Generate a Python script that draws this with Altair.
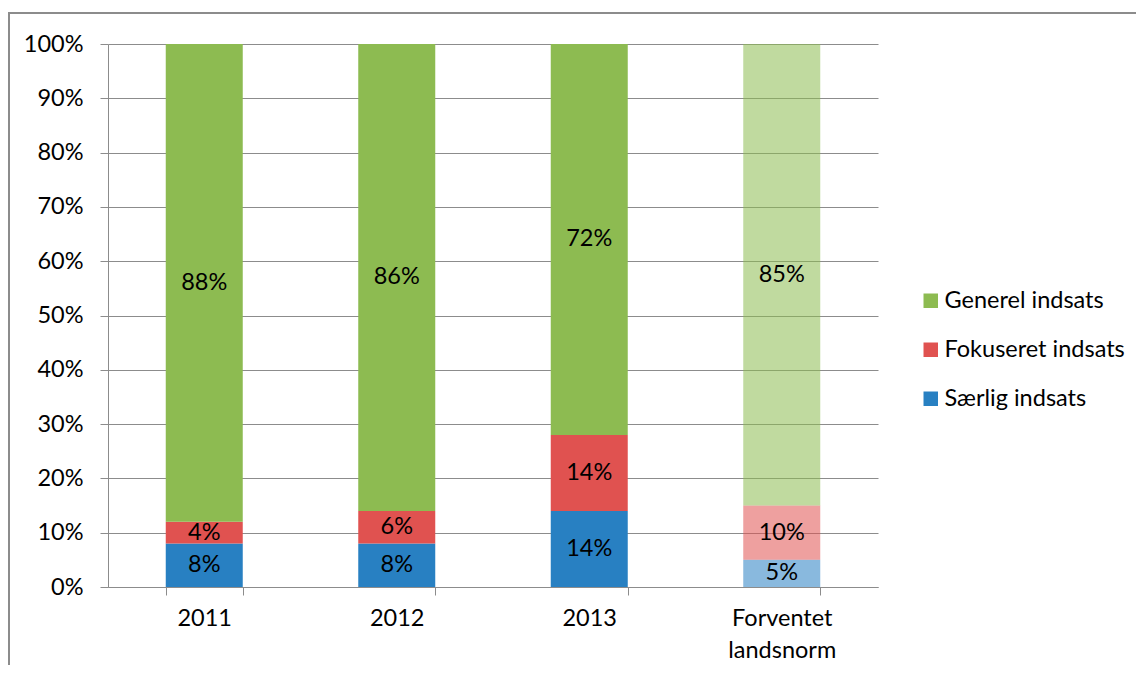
import altair as alt
import pandas as pd

categories = ["2011", "2012", "2013", "Forventet landsnorm"]
series = ["Særlig indsats", "Fokuseret indsats", "Generel indsats"]
saerlig = [0.08, 0.08, 0.14, 0.05]
fokuseret = [0.04, 0.06, 0.14, 0.10]
generel = [0.88, 0.86, 0.72, 0.85]
y_ticks = [i / 10 for i in range(11)]

rows = []
for i, c in enumerate(categories):
    for k, (s, vals) in enumerate(zip(series, [saerlig, fokuseret, generel])):
        rows.append({"category": c, "series": s, "value": vals[i], "order": k})
df = pd.DataFrame(rows)

FONT = "Lato"
FS = 23.5
GRAY = "#8c8c8c"

base = alt.Chart(df).transform_stack(
    stack="value", groupby=["category"], sort=[alt.SortField("order")], as_=["y0", "y1"]
).transform_calculate(mid="(datum.y0 + datum.y1) / 2")

xenc = alt.X(
    "category:N",
    sort=categories,
    title=None,
    scale=alt.Scale(paddingInner=0.6, paddingOuter=0.3),
    axis=alt.Axis(
        labelAngle=0,
        tickBand="extent",
        tickSize=8,
        tickColor=GRAY,
        domainColor=GRAY,
        labelFont=FONT,
        labelFontSize=FS,
        labelColor="#000",
        labelPadding=11,
        labelLineHeight=32,
        labelExpr="datum.value == 'Forventet landsnorm' ? ['Forventet', 'landsnorm'] : datum.value",
        grid=False,
    ),
)

bars = base.mark_bar().encode(
    x=xenc,
    y=alt.Y(
        "y0:Q",
        title=None,
        scale=alt.Scale(domain=[0, 1]),
        axis=alt.Axis(
            values=y_ticks,
            format=".0%",
            grid=True,
            gridColor=GRAY,
            tickColor=GRAY,
            domainColor=GRAY,
            tickSize=8,
            labelFont=FONT,
            labelFontSize=FS,
            labelColor="#000",
            labelPadding=17,
        ),
    ),
    y2="y1:Q",
    color=alt.Color(
        "series:N",
        scale=alt.Scale(
            domain=["Generel indsats", "Fokuseret indsats", "Særlig indsats"],
            range=["#8DBB51", "#E05250", "#2880C2"],
        ),
        legend=alt.Legend(
            title=None,
            orient="none",
            legendX=811,
            legendY=245,
            symbolType="square",
            symbolSize=210,
            symbolStrokeWidth=0,
            labelFont=FONT,
            labelFontSize=FS,
            labelColor="#000",
            labelLimit=400,
            rowPadding=24,
            labelOffset=2,
        ),
    ),
    opacity=alt.condition(
        alt.datum.category == "Forventet landsnorm", alt.value(0.55), alt.value(1.0)
    ),
)

labels = base.mark_text(font=FONT, fontSize=FS, color="#000").encode(
    x=alt.X("category:N", sort=categories),
    y=alt.Y("mid:Q"),
    text=alt.Text("value:Q", format=".0%"),
)

frame = alt.Chart(pd.DataFrame({"a": [0]})).mark_rect(
    fill=None, stroke=GRAY, strokeWidth=2
).encode(
    x=alt.value(-99), x2=alt.value(1200), y=alt.value(-31), y2=alt.value(800)
)

chart = alt.layer(frame, bars, labels).properties(
    width=770,
    height=543,
    autosize=alt.AutoSizeParams(type="none"),
    padding={"left": 100, "top": 36, "right": 258, "bottom": 78},
).configure_view(stroke=None)

chart.save("out.html", embed_options={"renderer": "svg", "actions": False})
